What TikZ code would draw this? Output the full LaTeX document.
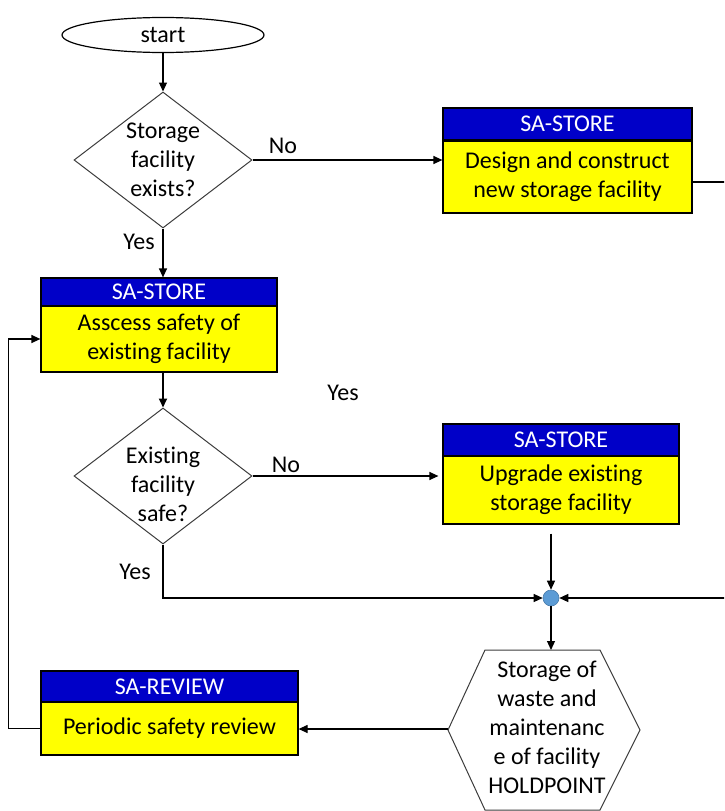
\documentclass[tikz,border=0pt]{standalone}
\usepackage{fontspec}
\setmainfont{Carlito}[Ligatures=NoCommon]
\usetikzlibrary{shapes.geometric,arrows.meta}
\definecolor{hdrblue}{RGB}{0,0,200}
\definecolor{bodyyellow}{RGB}{255,255,0}
\definecolor{dotblue}{RGB}{91,155,213}
\definecolor{outline}{RGB}{60,60,60}
\begin{document}
\begin{tikzpicture}[x=1pt,y=-1pt,
  every node/.style={font=\fontsize{24}{29}\selectfont},
  hdr/.style={draw=black, line width=1.2pt, fill=hdrblue, text=white, inner sep=0pt},
  body/.style={draw=black, line width=1.2pt, fill=bodyyellow, inner sep=0pt, align=center},
  decision/.style={diamond, draw=outline, line width=1pt, inner sep=0pt,
                   minimum width=178pt, minimum height=136pt},
  txt/.style={align=center, inner sep=0pt},
  conn/.style={draw=black, line width=1.2pt, -{Triangle[length=9pt,width=8pt]}},
  plain/.style={draw=black, line width=1.2pt}
]
\useasboundingbox (0,0) rectangle (724,811);
\clip (0,0) rectangle (724,811);

% start terminal
\node[ellipse, draw=black, line width=1.2pt, minimum width=202pt, minimum height=35pt,
      inner sep=0pt] (start) at (163,35) {start};

% first decision
\node[decision] (d1) at (163,160) {};
\node[txt] (d1t) at (163,160) {Storage\\facility\\exists?};

% new facility box
\node[hdr, minimum width=249pt, minimum height=32pt] (h1) at (567.5,124) {SA-STORE};
\node[body, minimum width=249pt, minimum height=72pt] (b1) at (567.5,177)
  {Design and construct\\new storage facility};

% safety assessment box
\node[hdr, minimum width=236pt, minimum height=28pt] (h2) at (159,292) {SA-STORE};
\node[body, minimum width=236pt, minimum height=66pt] (b2) at (159,339)
  {Asscess safety of\\existing facility};

% second decision
\node[decision] (d2) at (163,476) {};
\node[txt] (d2t) at (163,484) {Existing\\facility\\safe?};

% upgrade box
\node[hdr, minimum width=236pt, minimum height=32pt] (h3) at (561,440) {SA-STORE};
\node[body, minimum width=236pt, minimum height=68pt] (b3) at (561,490)
  {Upgrade existing\\storage facility};

% junction dot
\node[circle, fill=dotblue, draw=dotblue!80!black, line width=0.6pt,
      minimum size=16pt, inner sep=0pt] (dot) at (551,598) {};

% storage hexagon
\draw[draw=outline, line width=1pt] (485,650) -- (600,650) -- (640,730) -- (600,810)
  -- (485,810) -- (448,730) -- cycle;
\coordinate (hexN) at (551,650);
\coordinate (hexW) at (448,729);
\node[txt] (hex) at (547,727)
  {Storage of\\waste and\\maintenanc\\e of facility\\HOLDPOINT};

% periodic review box
\node[hdr, minimum width=257pt, minimum height=31pt] (h4) at (169.5,686.5) {SA-REVIEW};
\node[body, minimum width=257pt, minimum height=53pt] (b4) at (169.5,728.5)
  {Periodic safety review};

% connectors
\draw[conn] (start.south) -- (d1.north);
\draw[conn] (d1.east) -- (d1.east -| b1.west);
\draw[plain] ([yshift=-5pt]b1.east) -- ++(60,0) coordinate (rt);
\draw[conn] (rt) |- (dot.east);
\draw[conn] (d1.south) -- (d1.south |- h2.north);
\draw[conn, line width=1.8pt] (d2.north |- b2.south) -- (d2.north);
\draw[conn, shorten >=4pt] (d2.east) -- (d2.east -| b3.west);
\draw[conn, shorten <=9pt] (dot.north |- b3.south) -- (dot.north);
\draw[conn] (d2.south) |- (dot.west);
\draw[conn] (dot.south) -- (hexN);
\draw[conn] (hexW) -- (hexW -| b4.east);
\draw[conn] (b4.west) -- ++(-32,0) |- (b2.west);

% branch labels
\node[txt] (no1) at (283,146) {No};
\node[txt] (yes1) at (139,242) {Yes};
\node[txt] (yes0) at (343,393) {Yes};
\node[txt] (no2) at (286,465) {No};
\node[txt] (yes2) at (135,572) {Yes};
\end{tikzpicture}
\end{document}
